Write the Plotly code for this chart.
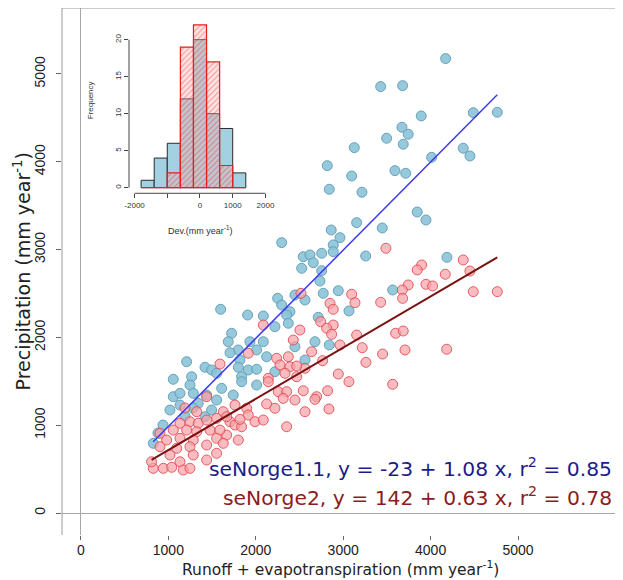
import plotly.graph_objects as go

# ---------------- data ----------------
# Runoff + evapotranspiration (x) and precipitation (y), seNorge1.1 (blue)
blue_x = [4172, 3429, 3680, 3893, 4488, 4763, 3672, 3744, 3497, 3687,
          3127, 4373, 4450, 4012, 2818, 3592, 3715, 3097, 2841, 3215,
          3847, 3947, 3154, 2863, 2963, 3447, 2886, 2296, 2886, 2543,
          2620, 2754, 2658, 2525, 2754, 3257, 2734, 2772, 2944, 2563,
          3066, 3566, 4187, 2715, 2677, 2841, 2563, 2250, 2296, 2448,
          2391, 2353, 2372, 2448, 1907, 2086, 2219, 1724, 1685, 1933,
          2086, 2010, 1800, 1705, 2124, 1819, 1800, 1914, 2010, 2219,
          1838, 1598, 1209, 1419, 1266, 1056, 1495, 1552, 1247, 1285,
          1438, 1056, 1133, 1342, 1552, 1610, 1495, 1419, 827, 1838,
          2010, 1742, 1018, 1133, 1190, 938, 881, 1281]
blue_y = [5175, 4856, 4867, 4522, 4559, 4564, 4393, 4313, 4268, 4200,
          4161, 4154, 4066, 4051, 3956, 3899, 3869, 3838, 3687, 3653,
          3428, 3337, 3307, 3223, 3136, 3246, 3053, 3079, 2976, 2919,
          2939, 2958, 2851, 2787, 2760, 2927, 2642, 2502, 2532, 2426,
          2301, 2540, 2912, 2229, 1951, 1914, 1743, 2445, 2369, 2483,
          2293, 2255, 2161, 1894, 2255, 2244, 2122, 2047, 1951, 1951,
          1951, 1857, 1857, 1826, 1780, 1743, 1660, 1629, 1637, 1609,
          1552, 2320, 1723, 1660, 1552, 1523, 1629, 1591, 1458, 1363,
          1344, 1325, 1363, 1249, 1287, 1420, 1173, 1097, 794, 1496,
          1458, 1344, 1173, 1230, 1105, 1002, 911, 1196]

# seNorge2 (red)
red_x = [3489, 4373, 4450, 4168, 3898, 3847, 3947, 4023, 3744, 3676,
         3680, 4488, 4763, 3429, 3097, 3135, 2849, 2886, 2742, 2886,
         2811, 2868, 2505, 3154, 3600, 3687, 3218, 3451, 3707, 4184,
         2963, 2639, 2765, 3260, 2563, 2944, 3066, 3566, 2543, 2822,
         2696, 2677, 2563, 2837, 2517, 2086, 2429, 1914, 2239, 2372,
         2277, 2391, 2468, 2334, 2143, 2468, 1590, 2143, 2257, 2353,
         2314, 2448, 1762, 2124, 2219, 1896, 1914, 1705, 1762, 1838,
         1819, 1991, 2086, 2353, 1667, 1800, 1324, 1628, 1133, 1247,
         1342, 1438, 1552, 1667, 1056, 1209, 1324, 1476, 1590, 904,
         980, 1133, 1285, 1552, 904, 1095, 1247, 1438, 1628, 1018,
         1285, 1552, 1133, 1438, 827, 942, 1038, 1170, 1247, 1438,
         1190, 808]
red_y = [3015, 2882, 2756, 2719, 2825, 2768, 2605, 2586, 2597, 2540,
         2445, 2521, 2521, 2400, 2491, 2395, 2388, 2320, 2179, 2141,
         2104, 2035, 2084, 2027, 2047, 2073, 1883, 1811, 1857, 1865,
         1914, 1837, 1735, 1716, 1648, 1583, 1496, 1466, 1393, 1393,
         1325, 1295, 1154, 1185, 2502, 2141, 1970, 1819, 1762, 1780,
         1686, 1666, 1674, 1591, 1534, 1552, 1697, 1496, 1382, 1382,
         1306, 1287, 1230, 1242, 1193, 1193, 1116, 1040, 1002, 983,
         1067, 1040, 1059, 983, 888, 831, 1154, 1154, 1022, 1040,
         1022, 1059, 1079, 1097, 945, 945, 926, 945, 945, 908,
         831, 851, 831, 851, 755, 737, 755, 775, 794, 661,
         661, 680, 584, 604, 509, 509, 521, 490, 509, 1325,
         1196, 584]

# Fitted lines as drawn in the picture (intercept, slope)
blue_fit = (-18, 1.004)
red_fit = (134, 0.583)

# Inset histogram of deviations
bin_centers = [-1600, -1200, -800, -400, 0, 400, 800, 1200]
bin_width = 400
blue_counts = [1, 4, 6, 12, 20, 10, 8, 2]
red_counts = [0, 0, 2, 19, 22, 17, 3, 0]

main_ticks = [0, 1000, 2000, 3000, 4000, 5000]
inset_xticks = [-2000, -1000, 0, 1000, 2000]
inset_xticktext = ["-2000", "", "0", "1000", "2000"]
inset_yticks = [0, 5, 10, 15, 20]

label_blue = "seNorge1.1, y = -23 + 1.08 x, r<sup>2</sup> = 0.85"
label_red = "seNorge2, y = 142 + 0.63 x, r<sup>2</sup> = 0.78"

# ---------------- figure ----------------
FONT = "Liberation Sans, Arial, Helvetica, sans-serif"
WIDE = "DejaVu Sans, Liberation Sans, sans-serif"
fig = go.Figure()

fig.add_trace(go.Scatter(
    x=blue_x, y=blue_y, mode="markers",
    marker=dict(size=10, color="rgba(140,196,216,0.92)",
                line=dict(color="rgba(95,155,180,0.9)", width=1)),
    showlegend=False, xaxis="x", yaxis="y"))
fig.add_trace(go.Scatter(
    x=red_x, y=red_y, mode="markers",
    marker=dict(size=10, color="rgba(248,160,165,0.7)",
                line=dict(color="rgba(225,70,80,0.85)", width=1)),
    showlegend=False, xaxis="x", yaxis="y"))

xmin, xmax = min(blue_x), max(blue_x)
fig.add_trace(go.Scatter(
    x=[xmin, xmax], y=[blue_fit[0] + blue_fit[1] * xmin, blue_fit[0] + blue_fit[1] * xmax],
    mode="lines", line=dict(color="#3b3bf0", width=1.5), showlegend=False))
rxmin, rxmax = min(red_x), max(red_x)
fig.add_trace(go.Scatter(
    x=[rxmin, rxmax], y=[red_fit[0] + red_fit[1] * rxmin, red_fit[0] + red_fit[1] * rxmax],
    mode="lines", line=dict(color="#7a1212", width=2), showlegend=False))

# inset histogram
fig.add_trace(go.Bar(
    x=bin_centers, y=blue_counts, width=[bin_width] * len(bin_centers),
    marker=dict(color="#a3d1e1", line=dict(color="#2a2a2a", width=1)),
    xaxis="x2", yaxis="y2", showlegend=False))
fig.add_trace(go.Bar(
    x=bin_centers, y=red_counts, width=[bin_width] * len(bin_centers),
    marker=dict(color="rgba(255,175,175,0.35)",
                line=dict(color="rgba(235,30,30,1)", width=1.2),
                pattern=dict(shape="/", fgcolor="rgba(225,40,40,0.9)",
                             size=4, solidity=0.25, fillmode="overlay")),
    xaxis="x2", yaxis="y2", showlegend=False))

# page has an 8px body margin: plot area on the page spans x 62-618, y 8-535
fig.update_layout(
    width=623, height=580,
    margin=dict(l=54, r=13, t=0, b=53),
    paper_bgcolor="white", plot_bgcolor="white",
    font=dict(family=FONT, color="#222"),
    barmode="overlay",
    xaxis=dict(range=[-217, 6144], tickvals=main_ticks, ticks="outside", ticklen=4,
               tickcolor="#666", tickfont=dict(size=14, color="#222"),
               ticklabelstandoff=-2,
               showgrid=False, showline=False, zeroline=True,
               zerolinecolor="#a8a8a8", zerolinewidth=1),
    yaxis=dict(range=[-250, 5751], tickvals=main_ticks, ticks="outside", ticklen=5,
               tickcolor="#666", tickangle=-90, tickfont=dict(size=14, color="#222"),
               ticklabelstandoff=5,
               showgrid=False, showline=False, zeroline=True,
               zerolinecolor="#a8a8a8", zerolinewidth=1),
    xaxis2=dict(domain=[0.1205, 0.3759], anchor="y2", range=[-2170, 2170],
                tickvals=inset_xticks, ticktext=inset_xticktext, ticks="outside",
                ticklen=4, tickcolor="#444", tickfont=dict(size=8, color="#333"),
                showgrid=False, zeroline=False, showline=False),
    yaxis2=dict(domain=[0.6484, 0.982], anchor="x2", range=[-0.76, 23],
                tickvals=inset_yticks, ticks="outside", ticklen=4, tickcolor="#444",
                tickangle=-90, tickfont=dict(size=8, color="#333"),
                showgrid=False, zeroline=False, showline=False),
)

frame = dict(color="#9a9a9a", width=1)
fig.add_shape(type="line", xref="paper", yref="paper", x0=0, x1=0, y0=0, y1=1, line=frame)
fig.add_shape(type="line", xref="paper", yref="paper", x0=0, x1=1, y0=1, y1=1, line=frame)
fig.add_shape(type="line", xref="paper", yref="paper", x0=1, x1=1, y0=0, y1=1, line=frame)
# inset axis lines
fig.add_shape(type="line", xref="x2", yref="y2 domain", x0=inset_xticks[0], x1=inset_xticks[-1],
              y0=0, y1=0, line=dict(color="#444", width=1))
fig.add_shape(type="line", xref="x2 domain", yref="y2", x0=0, x1=0,
              y0=inset_yticks[0], y1=inset_yticks[-1], line=dict(color="#444", width=1))

fig.add_annotation(text=label_blue, xref="paper", yref="paper", x=0.992, y=0.129,
                   xanchor="right", yanchor="middle", showarrow=False,
                   font=dict(size=20.3, color="#1c1c8a", family=WIDE))
fig.add_annotation(text=label_red, xref="paper", yref="paper", x=0.992, y=0.074,
                   xanchor="right", yanchor="middle", showarrow=False,
                   font=dict(size=20.3, color="#8a1c1c", family=WIDE))
fig.add_annotation(text="Precipitation (mm year<sup>-1</sup>)", xref="paper", yref="paper",
                   x=-0.072, y=0.5, textangle=-90, xanchor="center", yanchor="middle",
                   showarrow=False, font=dict(size=19, color="#222", family=WIDE))
fig.add_annotation(text="Runoff + evapotranspiration (mm year<sup>-1</sup>)", xref="paper",
                   yref="paper", x=0.5, y=-0.0645, xanchor="center", yanchor="middle",
                   showarrow=False, borderpad=0,
                   font=dict(size=15.5, color="#222", family=WIDE))
fig.add_annotation(text="Frequency", xref="paper", yref="paper", x=0.0504, y=0.825,
                   textangle=-90, xanchor="center", yanchor="middle", showarrow=False,
                   font=dict(size=8, color="#333", family=FONT))
fig.add_annotation(text="Dev.(mm year<sup>-1</sup>)", xref="paper", yref="paper",
                   x=0.248, y=0.579, xanchor="center", yanchor="middle", showarrow=False,
                   font=dict(size=9, color="#333", family=FONT))

fig.write_html("out.html")
